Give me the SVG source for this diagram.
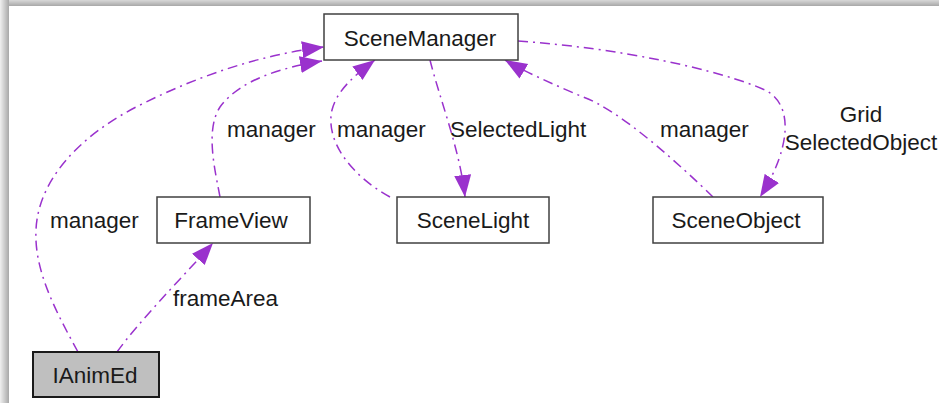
<svg xmlns="http://www.w3.org/2000/svg" width="939" height="403" viewBox="0 0 939 403">
<defs>
<linearGradient id="shTop" x1="0" y1="0" x2="0" y2="1">
<stop offset="0" stop-color="#d8d8d8"/><stop offset="1" stop-color="#a8a8a8"/>
</linearGradient>
<linearGradient id="shLeft" x1="0" y1="0" x2="1" y2="0">
<stop offset="0" stop-color="#f0f0f0"/><stop offset="1" stop-color="#a8a8a8"/>
</linearGradient>
<marker id="ah" markerUnits="userSpaceOnUse" markerWidth="24" markerHeight="18" refX="22" refY="8.5" orient="auto" viewBox="0 0 24 18">
<path d="M0,0 L22,8.5 L0,17 z" fill="#9a32cd"/>
</marker>
<style>
.node rect{fill:#ffffff;stroke:#404040;stroke-width:1.5}
.node.sel rect{fill:#bfbfbf;stroke:#1a1a1a;stroke-width:2}
text{font-family:"Liberation Sans",Arial,sans-serif;font-size:22.5px;fill:#1a1a1a}
.node text{text-anchor:middle}
.edge{fill:none;stroke:#9a32cd;stroke-width:1.5;stroke-dasharray:10,5,2,5;marker-end:url(#ah)}
</style>
</defs>
<rect x="0" y="0" width="939" height="403" fill="#ffffff"/>
<rect x="0" y="0" width="939" height="6" fill="url(#shTop)"/>
<rect x="0" y="0" width="9" height="403" fill="url(#shLeft)"/>
<g id="connectors">
<path class="edge" d="M78,352 C55,310 34,270 36,230 C38,180 80,135 140,105 C200,75 260,55 324,47"/>
<path class="edge" d="M220,197 C215,170 205,130 220,107 C240,80 280,68 322,61"/>
<path class="edge" d="M390,197 C350,175 325,140 332,110 C337,90 355,75 375,60"/>
<path class="edge" d="M430,60 C440,100 460,150 465,197"/>
<path class="edge" d="M713,197 C680,165 620,110 583,97 C555,85 525,72 505,60"/>
<path class="edge" d="M518,41 C620,48 720,70 765,90 C795,105 790,150 760,197"/>
<path class="edge" d="M117,352 C140,320 180,280 213,243"/>
<text x="50" y="228">manager</text>
<text x="227" y="137">manager</text>
<text x="337" y="137">manager</text>
<text x="450" y="137">SelectedLight</text>
<text x="660" y="137">manager</text>
<text x="861" y="122" text-anchor="middle">Grid</text>
<text x="861" y="150" text-anchor="middle">SelectedObject</text>
<text x="173" y="306">frameArea</text>
</g>
<g id="SceneManager" class="node"><rect x="324" y="14" width="194" height="46"/><text x="420" y="46">SceneManager</text></g>
<g id="FrameView" class="node"><rect x="157" y="197" width="153" height="46"/><text x="231" y="228">FrameView</text></g>
<g id="SceneLight" class="node"><rect x="397" y="197" width="152" height="46"/><text x="473" y="228">SceneLight</text></g>
<g id="SceneObject" class="node"><rect x="653" y="197" width="170" height="46"/><text x="736" y="228">SceneObject</text></g>
<g id="IAnimEd" class="node sel"><rect x="33" y="352" width="126" height="45"/><text x="95" y="383">IAnimEd</text></g>
</svg>
